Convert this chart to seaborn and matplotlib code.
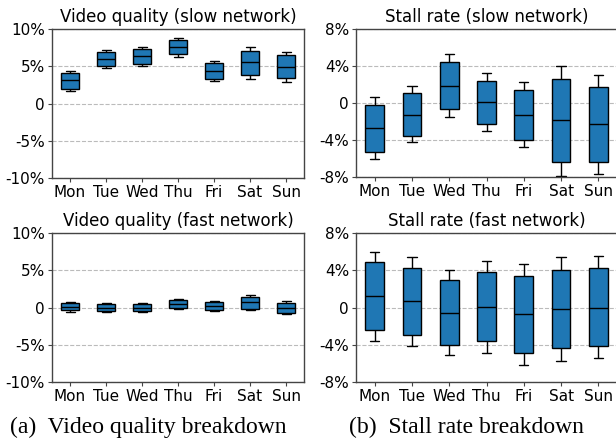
import numpy as np
import pandas as pd
import matplotlib
matplotlib.use("Agg")
import matplotlib.pyplot as plt
import seaborn as sns

days = ["Mon", "Tue", "Wed", "Thu", "Fri", "Sat", "Sun"]

# five-number summaries per day: [whisker low, q1, median, q3, whisker high] in %
vq_slow = [
    [1.65, 1.95, 3.1, 4.15, 4.4],
    [4.7, 5.0, 5.95, 6.9, 7.2],
    [5.0, 5.3, 6.35, 7.35, 7.65],
    [6.25, 6.6, 7.55, 8.5, 8.8],
    [3.0, 3.3, 4.35, 5.4, 5.7],
    [3.35, 3.85, 5.55, 7.1, 7.65],
    [2.9, 3.4, 4.9, 6.45, 6.9],
]
vq_fast = [
    [-0.58, -0.4, 0.09, 0.58, 0.76],
    [-0.63, -0.49, 0.0, 0.45, 0.58],
    [-0.58, -0.49, 0.0, 0.45, 0.58],
    [-0.18, -0.09, 0.45, 0.94, 1.08],
    [-0.49, -0.4, 0.18, 0.72, 0.9],
    [-0.36, -0.18, 0.8, 1.43, 1.66],
    [-0.9, -0.76, -0.09, 0.58, 0.85],
]
stall_slow = [
    [-6.1, -5.3, -2.7, -0.2, 0.6],
    [-4.25, -3.55, -1.25, 1.1, 1.8],
    [-1.5, -0.7, 1.8, 4.4, 5.25],
    [-3.0, -2.25, 0.1, 2.4, 3.2],
    [-4.75, -3.95, -1.25, 1.45, 2.3],
    [-7.9, -6.4, -1.85, 2.6, 4.05],
    [-7.65, -6.4, -2.3, 1.75, 3.05],
]
stall_fast = [
    [-3.55, -2.4, 1.2, 4.9, 6.0],
    [-4.1, -3.0, 0.65, 4.25, 5.4],
    [-5.1, -4.0, -0.55, 2.9, 4.0],
    [-4.9, -3.65, 0.05, 3.8, 5.0],
    [-6.15, -4.85, -0.75, 3.35, 4.65],
    [-5.75, -4.4, -0.2, 4.05, 5.4],
    [-5.4, -4.1, 0.0, 4.2, 5.5],
]

vq_ticks = [-10, -5, 0, 5, 10]
vq_labels = ["-10%", "-5%", "0", "5%", "10%"]
stall_ticks = [-8, -4, 0, 4, 8]
stall_labels = ["-8%", "-4%", "0", "4%", "8%"]


def to_frame(stats):
    rows = []
    for day, s in zip(days, stats):
        for v in s:
            rows.append({"day": day, "value": v})
    return pd.DataFrame(rows)


sns.set_style("white")
plt.rcParams["font.family"] = ["DejaVu Sans"]
plt.rcParams["text.color"] = "black"
plt.rcParams["xtick.color"] = "black"
plt.rcParams["ytick.color"] = "black"

fig = plt.figure(figsize=(6.16, 4.38), dpi=100)

panels = [
    (vq_slow, "Video quality (slow network)", vq_ticks, vq_labels, [52, 29, 304, 178]),
    (stall_slow, "Stall rate (slow network)", stall_ticks, stall_labels, [356, 29, 617, 177]),
    (vq_fast, "Video quality (fast network)", vq_ticks, vq_labels, [52, 233, 304, 382]),
    (stall_fast, "Stall rate (fast network)", stall_ticks, stall_labels, [356, 233, 617, 382]),
]

for stats, title, ticks, labels, box in panels:
    x0, y0, x1, y1 = box
    ax = fig.add_axes([x0 / 616, 1 - y1 / 438, (x1 - x0) / 616, (y1 - y0) / 438])
    df = to_frame(stats)
    sns.boxplot(
        data=df, x="day", y="value", ax=ax,
        color="#1f77b4", saturation=1, width=0.5,
        whis=(0, 100), linecolor="black", linewidth=1,
    )
    ax.set_ylim(ticks[0], ticks[-1])
    ax.set_xlim(-0.5, 6.5)
    ax.set_yticks(ticks)
    ax.set_yticklabels(labels)
    ax.set_xlabel("")
    ax.set_ylabel("")
    ax.set_title(title, fontsize=12, pad=5)
    ax.yaxis.grid(True, linestyle="--", color="#bbbbbb", linewidth=0.8)
    ax.set_axisbelow(True)
    ax.tick_params(axis="both", labelsize=11, length=3, width=0.8, color="#444444", pad=2, left=True, bottom=True)
    for sp in ax.spines.values():
        sp.set_color("#444444")
        sp.set_linewidth(1)

fig.text(148 / 616, 1 - 427 / 438, "(a)  Video quality breakdown", ha="center", va="center",
         family="Liberation Serif", fontsize=17)
fig.text(466 / 616, 1 - 427 / 438, "(b)  Stall rate breakdown", ha="center", va="center",
         family="Liberation Serif", fontsize=17)

fig.savefig("out.png", dpi=100)
